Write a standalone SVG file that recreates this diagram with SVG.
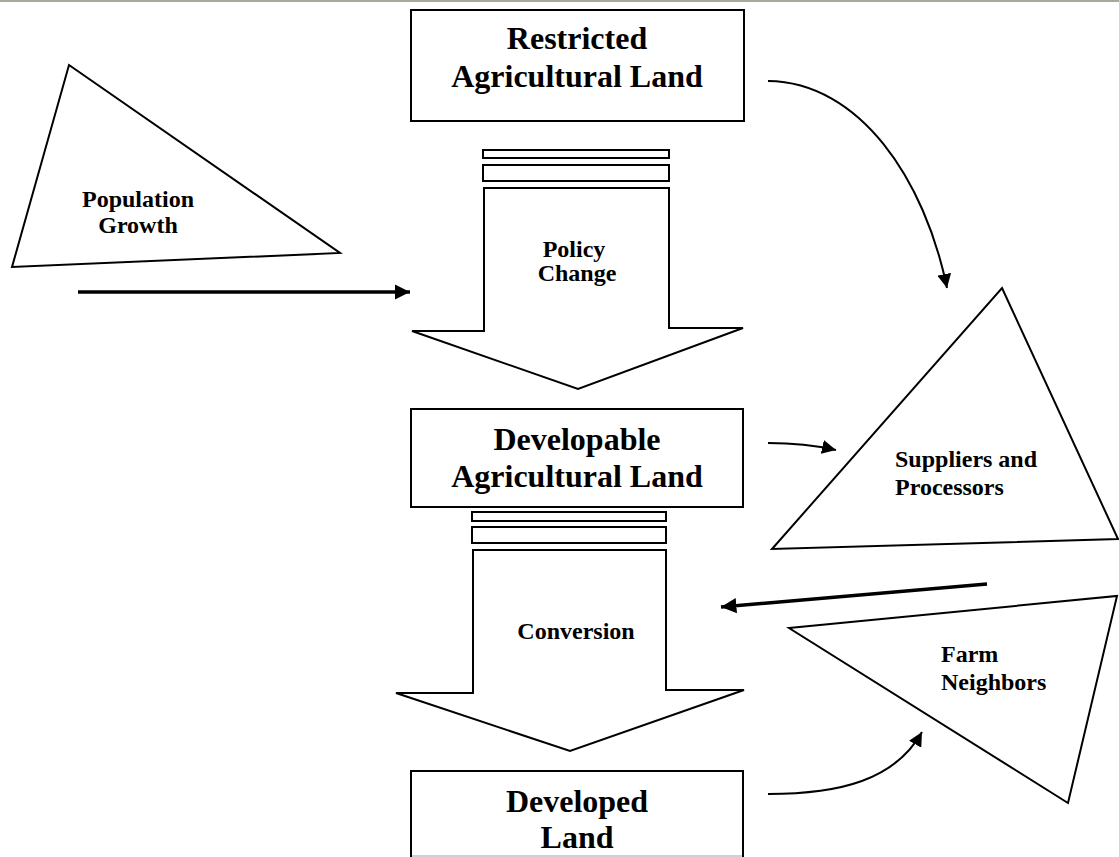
<svg xmlns="http://www.w3.org/2000/svg" width="1119" height="857" viewBox="0 0 1119 857">
<defs>
<style>
.shape{fill:#fff;stroke:#000;stroke-width:2;stroke-linejoin:miter}
.big{font-family:"Liberation Serif","Times New Roman",serif;font-weight:bold;font-size:32px;fill:#000;text-anchor:middle}
.small{font-family:"Liberation Serif","Times New Roman",serif;font-weight:bold;font-size:24px;fill:#000}
.mid{text-anchor:middle}
.thin{fill:none;stroke:#000;stroke-width:2}
.thick{fill:none;stroke:#000;stroke-width:3.5}
</style>
<marker id="ah" viewBox="0 0 10 10" refX="10" refY="5" markerWidth="7" markerHeight="7" orient="auto" markerUnits="strokeWidth">
<path d="M0,0 L10,5 L0,10 Z" fill="#000"/>
</marker>
<marker id="ahT" viewBox="0 0 10 10" refX="10" refY="5" markerWidth="4.4" markerHeight="4.6" orient="auto" markerUnits="strokeWidth">
<path d="M0,0 L10,5 L0,10 Z" fill="#000"/>
</marker>
</defs>
<rect x="0" y="0" width="1119" height="857" fill="#fff"/>
<line x1="0" y1="1" x2="1119" y2="1" stroke="#aca899" stroke-width="2"/>

<g id="restricted">
<rect class="shape" x="411" y="10" width="333" height="111"/>
<text class="big" x="577" y="49">Restricted</text>
<text class="big" x="577" y="87">Agricultural Land</text>
</g>

<g id="population-growth">
<polygon class="shape" points="69,65 340,253 12,267"/>
<text class="small mid" x="138" y="207">Population</text>
<text class="small mid" x="138" y="233">Growth</text>
</g>

<g id="policy-change">
<rect class="shape" x="483" y="150" width="186" height="8"/>
<rect class="shape" x="483" y="165" width="186" height="16"/>
<polygon class="shape" points="484,188 669,188 669,328 743,328 578,389 412,331 484,331"/>
<text class="small mid" x="574" y="257">Policy</text>
<text class="small mid" x="577" y="281">Change</text>
</g>

<g id="developable">
<rect class="shape" x="411" y="409" width="332" height="98"/>
<text class="big" x="577" y="450">Developable</text>
<text class="big" x="577" y="487">Agricultural Land</text>
</g>

<g id="suppliers">
<polygon class="shape" points="1002,288 1118,539 772,549"/>
<text class="small" x="895" y="467">Suppliers and</text>
<text class="small" x="895" y="495">Processors</text>
</g>

<g id="conversion">
<rect class="shape" x="472" y="512" width="194" height="9"/>
<rect class="shape" x="472" y="527" width="194" height="16"/>
<polygon class="shape" points="473,550 666,550 666,690 744,690 570,751 396,693 473,693"/>
<text class="small mid" x="576" y="639">Conversion</text>
</g>

<g id="farm-neighbors">
<polygon class="shape" points="789,628 1117,596 1068,803"/>
<text class="small" x="941" y="662">Farm</text>
<text class="small" x="941" y="690">Neighbors</text>
</g>

<g id="developed">
<path d="M411,858 L411,771 L743,771 L743,858" fill="#fff" stroke="#000" stroke-width="2"/>
<line x1="412" y1="856" x2="742" y2="856" stroke="#d0d0d0" stroke-width="2"/>
<text class="big" x="577" y="812">Developed</text>
<text class="big" x="577" y="848">Land</text>
</g>

<g id="connectors">
<path class="thick" d="M78,292 L410,292" marker-end="url(#ahT)"/>
<path class="thin" d="M768,81 C860,82 925,180 947,288" marker-end="url(#ah)"/>
<path class="thin" d="M768,443 Q805,443 836,450" marker-end="url(#ah)"/>
<path class="thick" d="M987,584 L721,607" marker-end="url(#ahT)"/>
<path class="thin" d="M768,794 C840,794 895,780 922,732" marker-end="url(#ah)"/>
</g>
</svg>
